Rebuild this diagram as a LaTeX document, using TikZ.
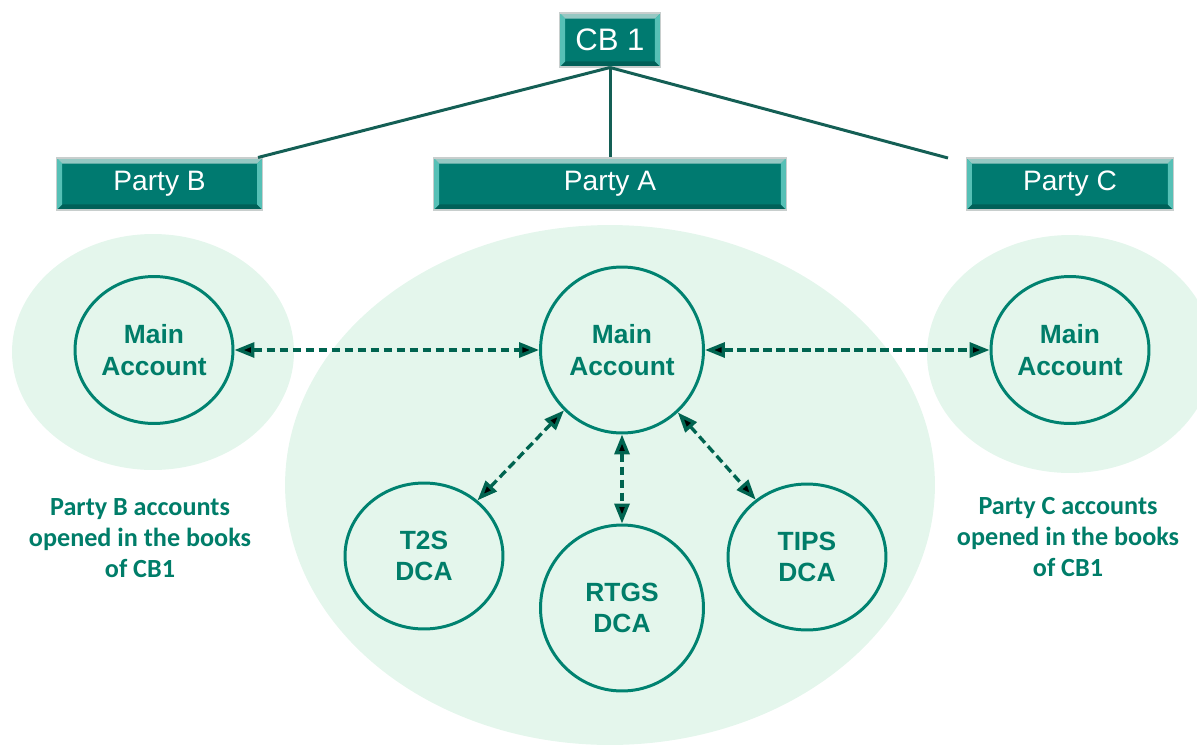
\documentclass[tikz,border=0pt]{standalone}
\usepackage{fontspec}
\setmainfont{Liberation Sans}
\newfontfamily\calibri{Carlito}
\usetikzlibrary{positioning,arrows.meta,shapes.geometric}

\definecolor{boxteal}{RGB}{0,122,112}
\definecolor{bevelside}{RGB}{86,192,182}
\definecolor{beveltop}{RGB}{150,200,195}
\definecolor{bevelbottom}{RGB}{0,96,88}
\definecolor{boxrim}{RGB}{200,206,205}
\definecolor{linkteal}{RGB}{20,95,85}
\definecolor{ringteal}{RGB}{0,130,112}
\definecolor{textteal}{RGB}{0,125,105}
\definecolor{arrowteal}{RGB}{0,100,80}
\definecolor{mint}{RGB}{228,246,236}

\newcommand\bevw{0.11cm}

\begin{document}
\begin{tikzpicture}[
        x=0.02cm, y=-0.02cm,
        box/.style={
                rectangle,
                fill=boxteal,
                draw=boxrim,
                line width=0.6pt,
                text=white,
                inner sep=0pt,
                minimum height=1.04cm,
                font=\fontsize{16}{18}\selectfont,
                path picture={
                        \coordinate (bsw) at (path picture bounding box.south west);
                        \coordinate (bne) at (path picture bounding box.north east);
                        \coordinate (bnw) at (bsw |- bne);
                        \coordinate (bse) at (bne |- bsw);
                        \fill[beveltop] (bnw) -- (bne) -- ++(-\bevw,-\bevw) -- ([shift={(\bevw,-\bevw)}]bnw) -- cycle;
                        \fill[bevelbottom] (bsw) -- (bse) -- ++(-\bevw,\bevw) -- ([shift={(\bevw,\bevw)}]bsw) -- cycle;
                        \fill[bevelside] (bsw) -- (bnw) -- ++(\bevw,-\bevw) -- ([shift={(\bevw,\bevw)}]bsw) -- cycle;
                        \fill[bevelside] (bse) -- (bne) -- ++(-\bevw,-\bevw) -- ([shift={(-\bevw,\bevw)}]bse) -- cycle;
                    }
            },
        account/.style={
                ellipse,
                draw=ringteal,
                line width=1.7pt,
                inner sep=0pt,
                minimum width=3.16cm,
                minimum height=2.94cm,
                text=textteal,
                align=center,
                font=\bfseries\fontsize{15}{18}\selectfont
            },
        bigaccount/.style={account, minimum width=3.26cm, minimum height=3.32cm},
        caption/.style={text=textteal, align=center, font=\calibri\bfseries\fontsize{14.9}{17.6}\selectfont},
        link/.style={draw=linkteal, line width=1.7pt},
        flow/.style={<->, draw=arrowteal, line width=1.9pt, dash pattern=on 0.17cm off 0.09cm},
        >={Triangle[length=0.4cm,width=0.3cm]}
    ]
    \useasboundingbox (0,0) rectangle (1197,744);

    % party areas
    \fill[mint] (153,352) ellipse [x radius=2.82cm, y radius=2.36cm];
    \fill[mint] (610,485) ellipse [x radius=6.5cm, y radius=5.2cm];
    \fill[mint] (1070,354) ellipse [x radius=2.86cm, y radius=2.38cm];

    \node[box, minimum width=2.02cm, minimum height=1.08cm, font=\fontsize{17.7}{20}\selectfont] (cbone) at (610,40) {CB 1};
    \node[box, minimum width=7.06cm] (partyA) at (610,184) {Party A};
    \node[box, minimum width=4.12cm] (partyB) [left=3.4cm of partyA] {Party B};
    \node[box, minimum width=4.14cm] (partyC) [right=3.58cm of partyA] {Party C};
    \coordinate (cend) at (948,158);

    \draw[link] (cbone.south) -- ([xshift=-0.1cm]partyB.north east);
    \draw[link] (cbone.south) -- (partyA.north);
    \draw[link] (cbone.south) -- (cend);

    \node[bigaccount] (mainA) at (622,350) {Main\\Account};
    \node[account] (mainB) at (154,350) {Main\\Account};
    \node[account] (mainC) at (1070,350) {Main\\Account};
    \node[account, minimum height=2.92cm] (tts) at (424,556) {T2S\\DCA};
    \node[bigaccount] (rtgs) at (622,608) {RTGS\\DCA};
    \node[account, minimum height=2.92cm] (tips) at (807,557) {TIPS\\DCA};

    \path[flow] (mainB) edge (mainA);
    \path[flow] (mainA) edge (mainC);
    \path[flow] (mainA) edge (tts);
    \path[flow] (mainA) edge (rtgs);
    \path[flow] (mainA) edge (tips);

    \node[caption] (notesB) at (140,538) {Party B accounts\\opened in the books\\of CB1};
    \node[caption] (notesC) at (1068,537) {Party C accounts\\opened in the books\\of CB1};
\end{tikzpicture}
\end{document}
